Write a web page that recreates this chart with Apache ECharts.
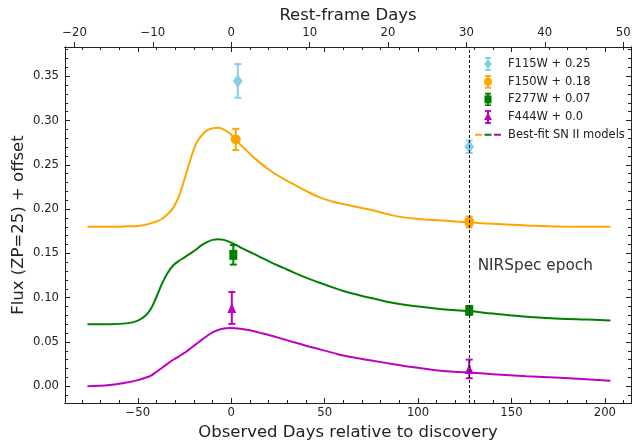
<!DOCTYPE html>
<html>
<head>
<meta charset="utf-8">
<script src="https://cdn.jsdelivr.net/npm/echarts@6/dist/echarts.min.js"></script>
<style>
  html, body { margin: 0; padding: 0; background: #fff; }
  #lc { width: 634px; height: 445px; }
</style>
</head>
<body>
<div id="lc"></div>
<script>
// observed-frame days -> rest-frame days
const onePlusZ = 4.196;
const obsMin = -89, obsMax = 214;
const fluxMin = -0.019, fluxMax = 0.383;

// tick positions
const obsMajorTicks = [-50, 0, 50, 100, 150, 200];
const obsMinorTicks = [-80, -70, -60, -50, -40, -30, -20, -10, 0, 10, 20, 30, 40, 50, 60, 70, 80, 90, 100,
  110, 120, 130, 140, 150, 160, 170, 180, 190, 200, 210];
const restTicks = [-20, -10, 0, 10, 20, 30, 40, 50];
const fluxMajorTicks = [0, 0.05, 0.10, 0.15, 0.20, 0.25, 0.30, 0.35];
const fluxMinorTicks = [-0.01, 0, 0.01, 0.02, 0.03, 0.04, 0.05, 0.06, 0.07, 0.08, 0.09, 0.10, 0.11, 0.12, 0.13,
  0.14, 0.15, 0.16, 0.17, 0.18, 0.19, 0.20, 0.21, 0.22, 0.23, 0.24, 0.25, 0.26, 0.27, 0.28, 0.29, 0.30,
  0.31, 0.32, 0.33, 0.34, 0.35, 0.36, 0.37, 0.38];

// photometry (flux + offset)
const f115Days = [3.5, 127.4];
const f115Flux = [0.3447, 0.2704];
const f115Err = [0.019, 0.007];
const f150Days = [2.4, 127.4];
const f150Flux = [0.2786, 0.1855];
const f150Err = [0.012, 0.006];
const f277Days = [1.1, 127.4];
const f277Flux = [0.1483, 0.0856];
const f277Err = [0.011, 0.005];
const f444Days = [0.3, 127.4];
const f444Flux = [0.0884, 0.0195];
const f444Err = [0.018, 0.0105];

// best-fit model curves
const modelDays = [-77, -65, -55, -50, -46, -43, -40, -37, -34, -31, -28, -25, -22, -19, -16, -13, -10, -7, -4, -1,
  2, 6, 10, 15, 21, 28, 33, 40, 47, 55, 60, 68, 75, 87, 99, 113, 127, 140, 158, 176, 190, 203];
const model150 = [0.180, 0.180, 0.1805, 0.181, 0.1823, 0.184, 0.186, 0.1891, 0.1945, 0.2016, 0.2145, 0.234, 0.2548,
  0.2731, 0.2828, 0.2888, 0.2911, 0.2918, 0.2898, 0.2858,
  0.279, 0.2705, 0.2624, 0.253, 0.2433, 0.234, 0.2285, 0.2205, 0.2135, 0.208, 0.2058, 0.202, 0.199, 0.1926,
  0.189, 0.187, 0.1851, 0.1833, 0.1814, 0.1802, 0.1801, 0.180];
const model277 = [0.070, 0.070, 0.0712, 0.074, 0.0795, 0.0875, 0.101, 0.116, 0.128, 0.1365, 0.1415, 0.1455, 0.1497,
  0.154, 0.159, 0.1627, 0.1652, 0.166, 0.1652, 0.163,
  0.160, 0.1555, 0.1515, 0.1464, 0.140, 0.1335, 0.1288, 0.1225, 0.117, 0.111, 0.1075, 0.103, 0.0995, 0.0939,
  0.0902, 0.087, 0.0848, 0.082, 0.0785, 0.0762, 0.0752, 0.0743];
const model444 = [0.000, 0.0012, 0.0045, 0.0068, 0.0095, 0.012, 0.0163, 0.0208, 0.0255, 0.0298, 0.0337, 0.0377,
  0.0423, 0.0472, 0.052, 0.0567, 0.0607, 0.0635, 0.0651, 0.0657,
  0.0655, 0.0645, 0.0631, 0.0605, 0.0573, 0.053, 0.0499, 0.0457, 0.0418, 0.0373, 0.0346, 0.0315, 0.029, 0.0248,
  0.021, 0.0172, 0.0154, 0.0136, 0.0112, 0.0094, 0.0078, 0.006];

const nirspecDay = 127.4;

const FONT = 'DejaVu Sans';
const C115 = '#87CEEB', C150 = '#FFA500', C277 = '#008000', C444 = '#BF00BF';

function minus(v) { return String(v).replace('-', '\u2212'); }

function pairs(xs, ys) { return xs.map((x, i) => [x, ys[i]]); }
function errRows(xs, ys, es) { return xs.map((x, i) => [x, ys[i] - es[i], ys[i] + es[i]]); }

function errorBar(color) {
  return function (params, api) {
    const x = api.value(0);
    const top = api.coord([x, api.value(2)]);
    const bot = api.coord([x, api.value(1)]);
    const cap = 3.5;
    const st = { stroke: color, lineWidth: 2 };
    return {
      type: 'group',
      children: [
        { type: 'line', shape: { x1: top[0], y1: top[1], x2: bot[0], y2: bot[1] }, style: st },
        { type: 'line', shape: { x1: top[0] - cap, y1: top[1], x2: top[0] + cap, y2: top[1] }, style: st },
        { type: 'line', shape: { x1: bot[0] - cap, y1: bot[1], x2: bot[0] + cap, y2: bot[1] }, style: st }
      ]
    };
  };
}

function svgIcon(body) {
  const svg = "<svg xmlns='http://www.w3.org/2000/svg' width='26' height='14'>" + body + "</svg>";
  return 'image://data:image/svg+xml;charset=utf-8,' + encodeURIComponent(svg);
}
function barIcon(color, marker) {
  const s = "stroke='" + color + "' stroke-width='2'";
  return svgIcon(
    "<line x1='13' y1='1' x2='13' y2='13' " + s + "/>" +
    "<line x1='10' y1='1' x2='16' y2='1' " + s + "/>" +
    "<line x1='10' y1='13' x2='16' y2='13' " + s + "/>" + marker);
}
const icon115 = barIcon(C115, "<path d='M13 2 L17 7 L13 12 L9 7Z' fill='" + C115 + "'/>");
const icon150 = barIcon(C150, "<circle cx='13' cy='7' r='4' fill='" + C150 + "'/>");
const icon277 = barIcon(C277, "<rect x='9.5' y='3' width='7' height='8' fill='" + C277 + "'/>");
const icon444 = barIcon(C444, "<path d='M13 2.5 L17 10 L9 10Z' fill='" + C444 + "'/>");
const iconModel = svgIcon(
  "<line x1='0' y1='7' x2='7' y2='7' stroke='" + C150 + "' stroke-width='2'/>" +
  "<line x1='9.5' y1='7' x2='16.5' y2='7' stroke='" + C277 + "' stroke-width='2'/>" +
  "<line x1='19' y1='7' x2='26' y2='7' stroke='" + C444 + "' stroke-width='2'/>");

const tickLabel = { fontFamily: FONT, fontSize: 11.7, color: '#222' };
const titleText = { fontFamily: FONT, fontSize: 16.5, color: '#222' };

function obsAxis(pos, ticks, len, labels) {
  return {
    type: 'value', position: pos, min: obsMin, max: obsMax,
    axisLine: { show: true, onZero: false, lineStyle: { color: '#222', width: 1 } },
    axisTick: { show: true, inside: true, length: len, customValues: ticks, lineStyle: { color: '#222' } },
    axisLabel: labels ? Object.assign({ show: true, margin: 4, customValues: ticks, formatter: minus }, tickLabel)
                      : { show: false },
    splitLine: { show: false }
  };
}
function fluxAxis(pos, ticks, len, labels) {
  return {
    type: 'value', position: pos, min: fluxMin, max: fluxMax,
    axisLine: { show: true, onZero: false, lineStyle: { color: '#222', width: 1 } },
    axisTick: { show: true, inside: true, length: len, customValues: ticks, lineStyle: { color: '#222' } },
    axisLabel: labels ? Object.assign({ show: true, margin: 6, customValues: ticks,
                          formatter: v => v.toFixed(2) }, tickLabel)
                      : { show: false },
    splitLine: { show: false }
  };
}

const xBottom = obsAxis('bottom', obsMajorTicks, 5, true);
xBottom.name = 'Observed Days relative to discovery';
xBottom.nameLocation = 'middle';
xBottom.nameGap = 21;
xBottom.nameMoveOverlap = false;
xBottom.nameTextStyle = titleText;

const xRest = {
  type: 'value', position: 'top', min: obsMin / onePlusZ, max: obsMax / onePlusZ,
  name: 'Rest-frame Days', nameLocation: 'middle', nameGap: 23, nameMoveOverlap: false,
  nameTextStyle: titleText,
  axisLine: { show: true, onZero: false, lineStyle: { color: '#222', width: 1 } },
  axisTick: { show: true, inside: false, length: 5, customValues: restTicks, lineStyle: { color: '#222' } },
  axisLabel: Object.assign({ show: true, margin: 8, customValues: restTicks, formatter: minus }, tickLabel),
  splitLine: { show: false }
};

const yLeft = fluxAxis('left', fluxMajorTicks, 5, true);
yLeft.name = 'Flux (ZP=25) + offset';
yLeft.nameLocation = 'middle';
yLeft.nameGap = 38;
yLeft.nameMoveOverlap = false;
yLeft.nameTextStyle = titleText;

const lineStyleOf = c => ({ color: c, width: 2 });

const chart = echarts.init(document.getElementById('lc'), null, { renderer: 'canvas' });
chart.setOption({
  animation: false,
  backgroundColor: '#fff',
  grid: { left: 65, right: 3, top: 47, bottom: 42, containLabel: false, outerBoundsMode: 'none' },
  xAxis: [
    xBottom,
    obsAxis('bottom', obsMinorTicks, 3, false),
    obsAxis('top', obsMajorTicks, 5, false),
    obsAxis('top', obsMinorTicks, 3, false),
    xRest
  ],
  yAxis: [
    yLeft,
    fluxAxis('left', fluxMinorTicks, 3, false),
    fluxAxis('right', fluxMajorTicks, 5, false),
    fluxAxis('right', fluxMinorTicks, 3, false)
  ],
  legend: {
    orient: 'vertical', left: 470, top: 52,
    itemWidth: 26, itemHeight: 14, itemGap: 3.7,
    textStyle: { fontFamily: FONT, fontSize: 11.5, color: '#222', padding: [0, 0, 0, 2] },
    data: [
      { name: 'F115W + 0.25', icon: icon115 },
      { name: 'F150W + 0.18', icon: icon150 },
      { name: 'F277W + 0.07', icon: icon277 },
      { name: 'F444W + 0.0', icon: icon444 },
      { name: 'Best-fit SN II models', icon: iconModel }
    ]
  },
  series: [
    { name: 'F150W model', type: 'line', smooth: 0.4, showSymbol: false, data: pairs(modelDays, model150),
      lineStyle: lineStyleOf(C150), itemStyle: { color: C150 }, z: 2 },
    { name: 'F277W model', type: 'line', smooth: 0.4, showSymbol: false, data: pairs(modelDays, model277),
      lineStyle: lineStyleOf(C277), itemStyle: { color: C277 }, z: 2 },
    { name: 'F444W model', type: 'line', smooth: 0.4, showSymbol: false, data: pairs(modelDays, model444),
      lineStyle: lineStyleOf(C444), itemStyle: { color: C444 }, z: 2 },
    { name: 'Best-fit SN II models', type: 'line', data: [], itemStyle: { color: C277 } },

    { name: 'F115W err', type: 'custom', renderItem: errorBar(C115), data: errRows(f115Days, f115Flux, f115Err),
      encode: { x: 0, y: [1, 2] }, z: 3 },
    { name: 'F150W err', type: 'custom', renderItem: errorBar(C150), data: errRows(f150Days, f150Flux, f150Err),
      encode: { x: 0, y: [1, 2] }, z: 3 },
    { name: 'F277W err', type: 'custom', renderItem: errorBar(C277), data: errRows(f277Days, f277Flux, f277Err),
      encode: { x: 0, y: [1, 2] }, z: 3 },
    { name: 'F444W err', type: 'custom', renderItem: errorBar(C444), data: errRows(f444Days, f444Flux, f444Err),
      encode: { x: 0, y: [1, 2] }, z: 3 },

    { name: 'F115W + 0.25', type: 'scatter', symbol: 'diamond', symbolSize: [10, 13],
      data: pairs(f115Days, f115Flux), itemStyle: { color: C115, opacity: 1 }, z: 4 },
    { name: 'F150W + 0.18', type: 'scatter', symbol: 'circle', symbolSize: 10,
      data: pairs(f150Days, f150Flux), itemStyle: { color: C150, opacity: 1 }, z: 4 },
    { name: 'F277W + 0.07', type: 'scatter', symbol: 'rect', symbolSize: [8, 10],
      data: pairs(f277Days, f277Flux), itemStyle: { color: C277, opacity: 1 }, z: 4 },
    { name: 'F444W + 0.0', type: 'scatter', symbol: 'triangle', symbolSize: [9, 10],
      data: pairs(f444Days, f444Flux), itemStyle: { color: C444, opacity: 1 }, z: 4,
      markLine: {
        silent: true, symbol: ['none', 'none'], animation: false,
        label: { show: false },
        lineStyle: { color: '#000', type: [3, 2], width: 1 },
        data: [{ xAxis: nirspecDay }]
      }
    }
  ]
});

const textPos = chart.convertToPixel({ xAxisIndex: 0, yAxisIndex: 0 }, [nirspecDay + 4.5, 0.135]);
chart.setOption({
  graphic: [{
    type: 'text', left: textPos[0], top: textPos[1] - 8,
    style: { text: 'NIRSpec epoch', fontFamily: FONT, fontSize: 15.3, fill: '#333' }
  }]
});
</script>
</body>
</html>
